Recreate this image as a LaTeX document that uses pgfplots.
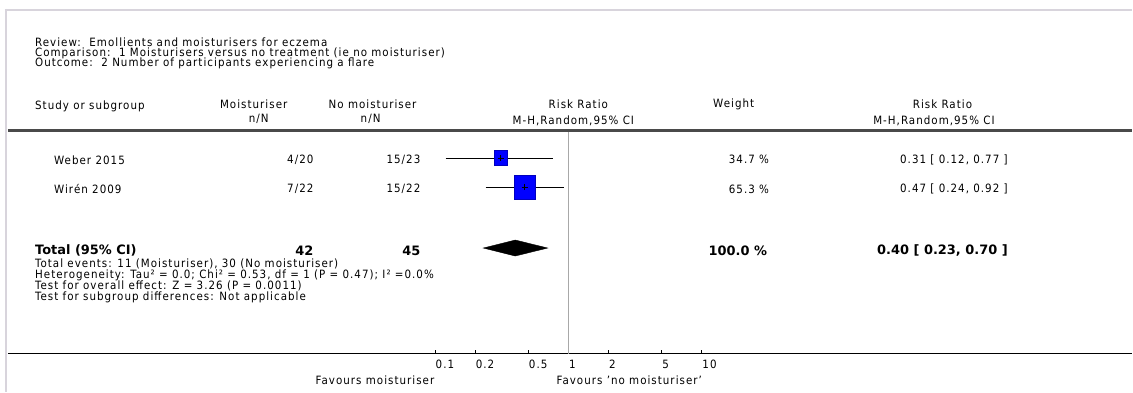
\documentclass[border=0pt]{standalone}
\usepackage{fontspec}
\setmainfont{DejaVu Sans Condensed}[LetterSpace=9]
\newfontfamily\boldfam{DejaVu Sans}
\usepackage{pgfplots}
\pgfplotsset{compat=1.18}
\definecolor{framegray}{HTML}{D8D4DC}
\definecolor{hdrline}{HTML}{4A4A4A}
\definecolor{refgray}{HTML}{A8A8A8}
\definecolor{sqblue}{HTML}{0000FF}
\newcommand\sm{\fontsize{11.5}{12}\selectfont}
\newcommand\bg{\boldfam\fontsize{13}{14}\selectfont\bfseries}
\begin{document}
\begin{tikzpicture}[x=1bp,y=1bp]
\path (0,-38) rectangle (1133,354);
\begin{axis}[
  at={(8bp,0bp)}, anchor=south west,
  scale only axis, width=1125bp, height=354bp,
  xmode=log, log basis x=10,
  xmin=6.278e-5, xmax=16777,
  ymin=0, ymax=354,
  axis x line*=bottom, axis y line=none,
  xtick={0.1,0.2,0.5,1,2,5,10},
  xticklabels={0.1,0.2,0.5,1,2,5,10},
  minor xtick={},
  tick align=inside, major tick length=4bp,
  xtick style={black, line width=0.9bp},
  xticklabel style={anchor=north west, font=\sm, inner sep=0pt, yshift=-6bp, xshift=0.5bp},
  x axis line style={line width=1.3bp, black},
  clip=false,
]
% line of no effect
\addplot[refgray, line width=0.8bp] coordinates {(1,0) (1,223)};
% Weber 2015
\addplot[black, line width=1bp] coordinates {(0.12,195.7) (0.77,195.7)};
\addplot[only marks, mark=square*, mark size=6.5bp,
  mark options={fill=sqblue, draw=blue!75!black, line width=0.4bp, yscale=1.15}] coordinates {(0.31,195.7)};
\addplot[only marks, mark=+, mark size=3bp, mark options={black, line width=0.4bp}] coordinates {(0.31,195.7)};
% Wiren 2009
\addplot[black, line width=1bp] coordinates {(0.24,166.7) (0.92,166.7)};
\addplot[only marks, mark=square*, mark size=10.5bp,
  mark options={fill=sqblue, draw=blue!75!black, line width=0.4bp, yscale=1.15}] coordinates {(0.47,166.7)};
\addplot[only marks, mark=+, mark size=3bp, mark options={black, line width=0.4bp}] coordinates {(0.47,166.7)};
% Total diamond
\addplot[fill=black, draw=black] coordinates {(0.23,105.7) (0.40,113.7) (0.70,105.7) (0.40,97.7)} -- cycle;
\end{axis}
% frame
\draw[framegray, line width=2bp] (5,344) -- (1133,344);
\draw[framegray, line width=2.5bp] (6,345) -- (6,-38);
% header rule
\draw[hdrline, line width=2.5bp] (8,223.5) -- (1133,223.5);
% titles
\node[anchor=west, inner sep=0pt, font=\sm] at (35,311.3) {Review:\ \ Emollients and moisturisers for eczema};
\node[anchor=west, inner sep=0pt, font=\sm] at (35,300.7) {Comparison:\ \ 1 Moisturisers versus no treatment (ie no moisturiser)};
\node[anchor=west, inner sep=0pt, font=\sm] at (35,290.7) {Outcome:\ \ 2 Number of participants experiencing a flare};
% column headers
\node[anchor=west, inner sep=0pt, font=\sm] at (35,248) {Study or subgroup};
\node[inner sep=0pt, font=\sm] at (254,249.7) {Moisturiser};
\node[inner sep=0pt, font=\sm] at (259,234.7) {n/N};
\node[inner sep=0pt, font=\sm] at (373,249.7) {No moisturiser};
\node[inner sep=0pt, font=\sm] at (371,234.7) {n/N};
\node[inner sep=0pt, font=\sm] at (579,250) {Risk Ratio};
\node[inner sep=0pt, font=\sm] at (574,233.3) {M-H,Random,95\% CI};
\node[inner sep=0pt, font=\sm] at (734.5,250) {Weight};
\node[inner sep=0pt, font=\sm] at (943.5,250) {Risk Ratio};
\node[inner sep=0pt, font=\sm] at (935,233.3) {M-H,Random,95\% CI};
% rows
\node[anchor=west, inner sep=0pt, font=\sm] at (54,194) {Weber 2015};
\node[anchor=east, inner sep=0pt, font=\sm] at (314,194) {4/20};
\node[anchor=east, inner sep=0pt, font=\sm] at (421,194) {15/23};
\node[anchor=east, inner sep=0pt, font=\sm] at (770,194) {34.7 \%};
\node[anchor=east, inner sep=0pt, font=\sm] at (1009,194) {0.31 [ 0.12, 0.77 ]};
\node[anchor=west, inner sep=0pt, font=\sm] at (54,164.7) {Wirén 2009};
\node[anchor=east, inner sep=0pt, font=\sm] at (314,164.7) {7/22};
\node[anchor=east, inner sep=0pt, font=\sm] at (421,164.7) {15/22};
\node[anchor=east, inner sep=0pt, font=\sm] at (770,164.7) {65.3 \%};
\node[anchor=east, inner sep=0pt, font=\sm] at (1009,164.7) {0.47 [ 0.24, 0.92 ]};
% total
\node[anchor=west, inner sep=0pt, font=\bg] at (35,103.3) {Total (95\% CI)};
\node[anchor=east, inner sep=0pt, font=\bg] at (314,103.3) {42};
\node[anchor=east, inner sep=0pt, font=\bg] at (421,103.3) {45};
\node[anchor=east, inner sep=0pt, font=\bg] at (768,103.3) {100.0 \%};
\node[anchor=east, inner sep=0pt, font=\bg] at (1009,103.3) {0.40 [ 0.23, 0.70 ]};
% footnotes
\node[anchor=west, inner sep=0pt, font=\sm] at (35,89.7) {Total events: 11 (Moisturiser), 30 (No moisturiser)};
\node[anchor=west, inner sep=0pt, font=\sm] at (35,78.3) {Heterogeneity: Tau² = 0.0; Chi² = 0.53, df = 1 (P = 0.47); I² =0.0\%};
\node[anchor=west, inner sep=0pt, font=\sm] at (35,67.3) {Test for overall effect: Z = 3.26 (P = 0.0011)};
\node[anchor=west, inner sep=0pt, font=\sm] at (35,56.3) {Test for subgroup differences: Not applicable};
% favours
\node[anchor=east, inner sep=0pt, font=\sm] at (435,-27) {Favours moisturiser};
\node[anchor=west, inner sep=0pt, font=\sm] at (557,-27) {Favours 'no moisturiser'};
\end{tikzpicture}
\end{document}
